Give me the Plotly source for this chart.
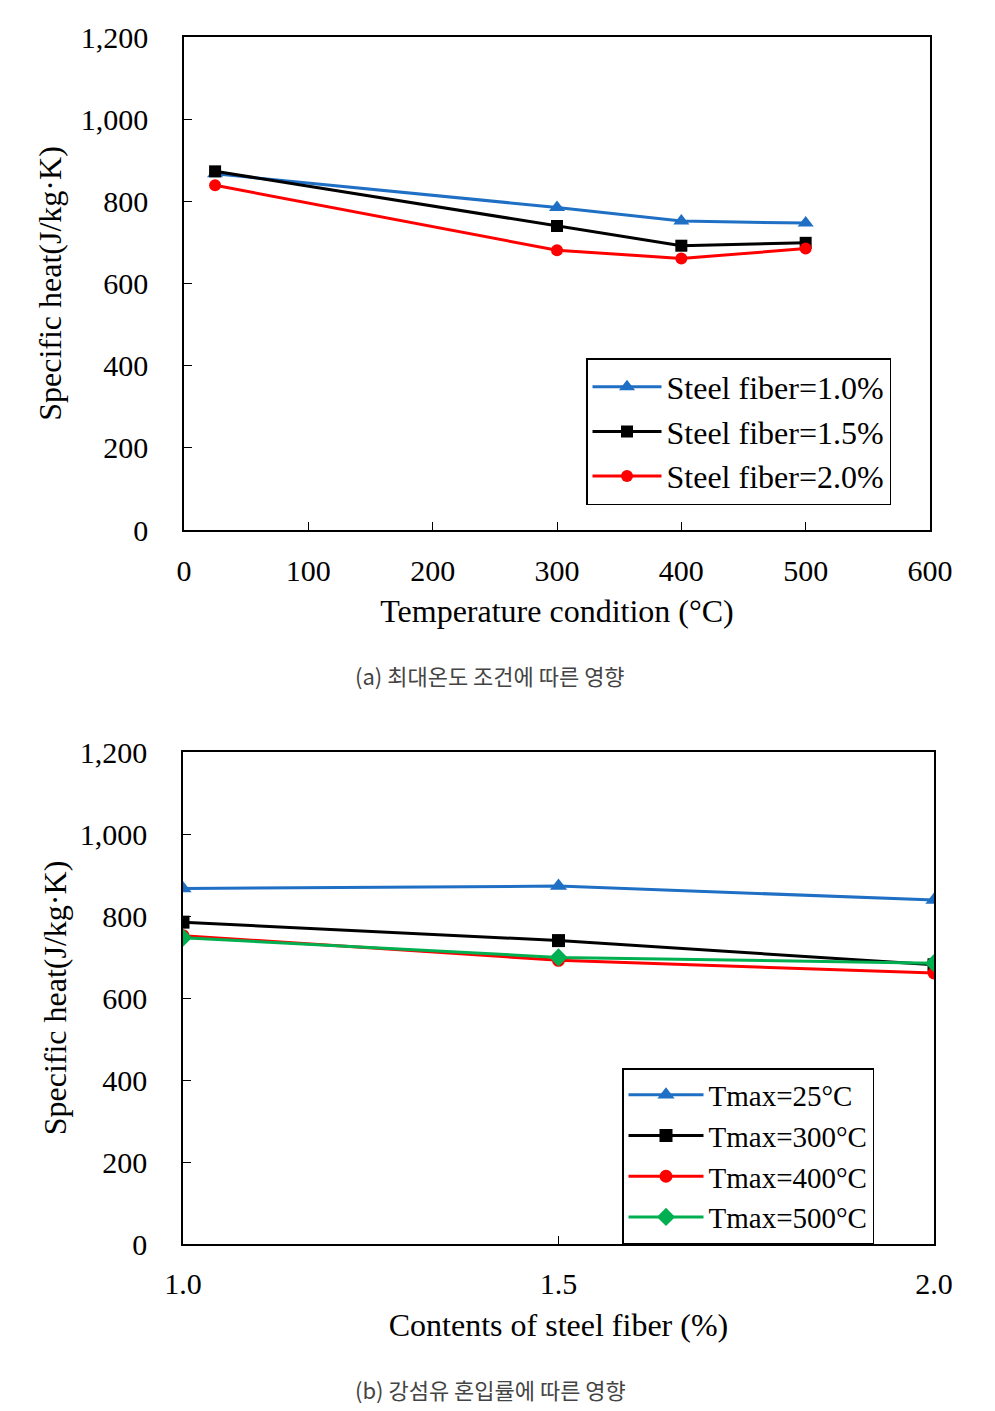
import plotly.graph_objects as go

# ---- data ----
temps = [25, 300, 400, 500]
fiber_10 = [867, 785, 752, 747]
fiber_15 = [873, 740, 692, 699]
fiber_20 = [839, 681, 661, 685]

fiber_contents = [1.0, 1.5, 2.0]
tmax_25 = [867, 873, 839]
tmax_300 = [785, 740, 681]
tmax_400 = [752, 692, 661]
tmax_500 = [747, 699, 685]

top_names = ["Steel fiber=1.0%", "Steel fiber=1.5%", "Steel fiber=2.0%"]
bot_names = ["Tmax=25°C", "Tmax=300°C", "Tmax=400°C", "Tmax=500°C"]

x_ticks_top = [0, 100, 200, 300, 400, 500, 600]
y_ticks = [0, 200, 400, 600, 800, 1000, 1200]
x_ticks_bot = [1.0, 1.5, 2.0]

BLUE = "#1f6fc4"
BLACK = "#000000"
RED = "#ff0000"
GREEN = "#00b050"
SERIF = "Liberation Serif"

fig = go.Figure()

top_series = [fiber_10, fiber_15, fiber_20]
top_style = [(BLUE, "triangle-up", 14), (BLACK, "square", 12), (RED, "circle", 12)]
for name, ys, (c, sym, sz) in zip(top_names, top_series, top_style):
    fig.add_trace(go.Scatter(x=temps, y=ys, name=name, mode="lines+markers",
                             line=dict(color=c, width=3),
                             marker=dict(symbol=sym, size=sz, color=c),
                             xaxis="x", yaxis="y", legend="legend"))

bot_series = [tmax_25, tmax_300, tmax_400, tmax_500]
bot_style = [(BLUE, "triangle-up", 15), (BLACK, "square", 13), (RED, "circle", 13), (GREEN, "diamond", 14)]
for name, ys, (c, sym, sz) in zip(bot_names, bot_series, bot_style):
    fig.add_trace(go.Scatter(x=fiber_contents, y=ys, name=name, mode="lines+markers",
                             line=dict(color=c, width=3),
                             marker=dict(symbol=sym, size=sz, color=c),
                             xaxis="x2", yaxis="y2", legend="legend2"))

W, H = 995, 1411
def px_x(p):
    return p / W
def px_y(p):
    return 1 - p / H

axis_common = dict(showline=True, linecolor="black", linewidth=1.5, mirror=True,
                   ticks="inside", ticklen=8, tickwidth=1.2, tickcolor="black",
                   showgrid=False, zeroline=False, automargin=False,
                   tickfont=dict(family=SERIF, size=30, color="black"))
title_font = dict(family=SERIF, size=32, color="black")

fig.update_layout(
    template="none",
    width=W, height=H,
    margin=dict(l=0, r=0, t=0, b=0),
    paper_bgcolor="white", plot_bgcolor="white",
    xaxis=dict(domain=[px_x(184), px_x(930)], range=[0, 600], tickvals=x_ticks_top,
               anchor="y", ticklabelstandoff=13,
               title=dict(text="Temperature condition (°C)", standoff=14, font=title_font),
               **axis_common),
    yaxis=dict(domain=[px_y(530), px_y(37)], range=[0, 1200], tickvals=y_ticks,
               tickformat=",d", anchor="x", ticklabelstandoff=28,
               title=dict(text="Specific heat(J/kg·K)", standoff=10, font=title_font),
               **axis_common),
    xaxis2=dict(domain=[px_x(183), px_x(934)], range=[1.0, 2.0], tickvals=x_ticks_bot,
                tickformat=".1f", anchor="y2", ticklabelstandoff=12,
                title=dict(text="Contents of steel fiber (%)", standoff=15, font=title_font),
                **axis_common),
    yaxis2=dict(domain=[px_y(1244), px_y(752)], range=[0, 1200], tickvals=y_ticks,
                tickformat=",d", anchor="x2", ticklabelstandoff=28,
                title=dict(text="Specific heat(J/kg·K)", standoff=4, font=title_font),
                **axis_common),
    legend=dict(x=px_x(586), y=px_y(358), xanchor="left", yanchor="top",
                bgcolor="white", bordercolor="black", borderwidth=1.5,
                font=dict(family=SERIF, size=32, color="black"),
                tracegroupgap=0, itemwidth=69),
    legend2=dict(x=px_x(622), y=px_y(1068), xanchor="left", yanchor="top",
                 bgcolor="white", bordercolor="black", borderwidth=1.5,
                 font=dict(family=SERIF, size=29, color="black"),
                 tracegroupgap=0, itemwidth=75),
    showlegend=True,
    annotations=[
        dict(text="(a) 최대온도 조건에 따른 영향", x=px_x(490), y=px_y(675),
             xref="paper", yref="paper", showarrow=False,
             xanchor="center", yanchor="middle",
             font=dict(family="Noto Sans CJK KR", size=22, color="#444444")),
        dict(text="(b) 강섬유 혼입률에 따른 영향", x=px_x(490), y=px_y(1389),
             xref="paper", yref="paper", showarrow=False,
             xanchor="center", yanchor="middle",
             font=dict(family="Noto Sans CJK KR", size=22, color="#444444")),
    ],
)

fig.write_html("out.html")
